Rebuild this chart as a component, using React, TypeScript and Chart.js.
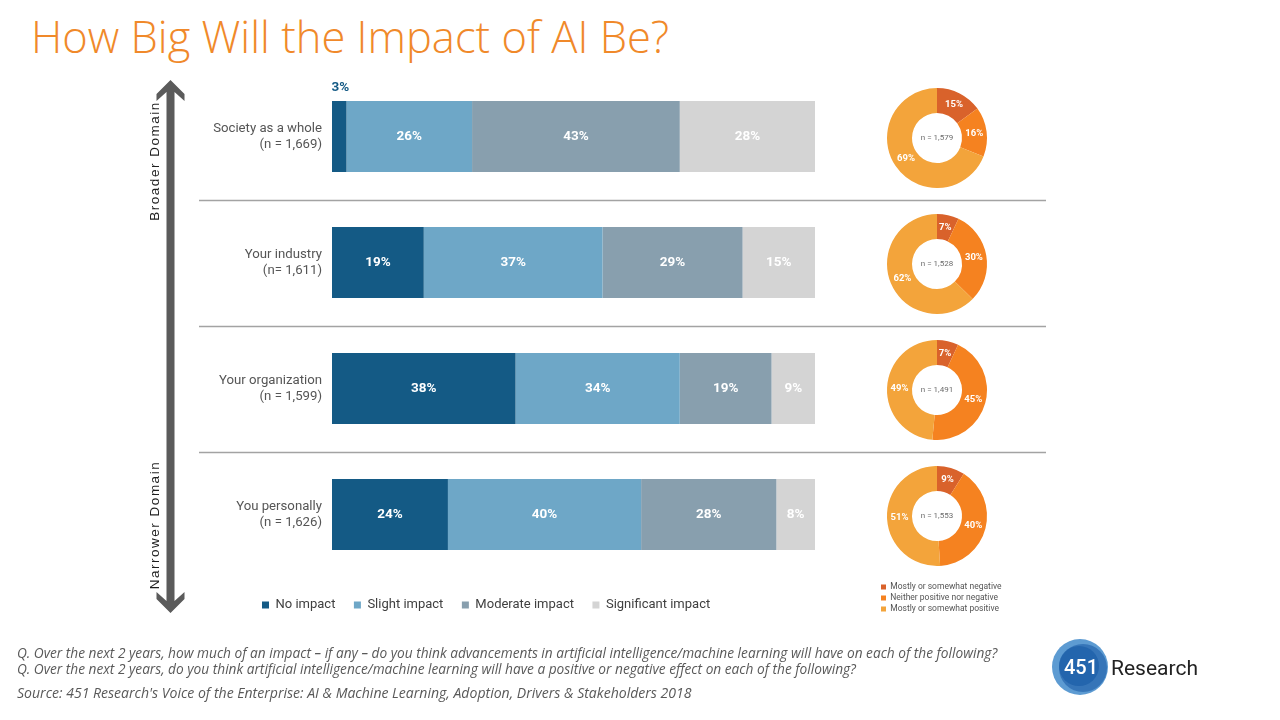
import React, { useEffect, useRef } from "react";
import { Chart, registerables } from "chart.js";

Chart.register(...registerables);

// ---------- data ----------
const categoryLabels: string[][] = [
  ["Society as a whole", "(n = 1,669)"],
  ["Your industry", "(n= 1,611)"],
  ["Your organization", "(n = 1,599)"],
  ["You personally", "(n = 1,626)"],
];
const impactNames = ["No impact", "Slight impact", "Moderate impact", "Significant impact"];
const noImpact = [3, 19, 38, 24];
const slightImpact = [26, 37, 34, 40];
const moderateImpact = [43, 29, 19, 28];
const significantImpact = [28, 15, 9, 8];

const sentimentNames = [
  "Mostly or somewhat negative",
  "Neither positive nor negative",
  "Mostly or somewhat positive",
];
const negativeShare = [15, 7, 7, 9];
const neitherShare = [16, 30, 45, 40];
const positiveShare = [69, 62, 49, 51];
const sampleSizes = ["1,579", "1,528", "1,491", "1,553"];

// ---------- styles ----------
const impactColors = ["#145a85", "#6ea7c7", "#889fae", "#d4d4d4"];
const sentimentColors = ["#d9622b", "#f58220", "#f3a43b"];
const SANS = "Roboto, 'Liberation Sans', sans-serif";

const PLOT_LEFT = 332;
const PLOT_RIGHT = 815;
const PLOT_TOP = 73.5;
const PLOT_BOTTOM = 577.5;
const AXIS_WIDTH = 200;
const LEG_FONT = 13;
const LEG_PAD = 18.5;

function ImpactBars() {
  const ref = useRef<HTMLCanvasElement>(null);
  useEffect(() => {
    const series = [noImpact, slightImpact, moderateImpact, significantImpact];

    const decor = {
      id: "decor",
      beforeDatasetsDraw(chart: any) {
        const { ctx } = chart;
        const y = chart.scales.y;
        ctx.save();
        ctx.strokeStyle = "#a3a3a3";
        ctx.lineWidth = 1.5;
        for (let i = 0; i < categoryLabels.length - 1; i++) {
          const yy = Math.round((y.getPixelForValue(i) + y.getPixelForValue(i + 1)) / 2) + 0.5;
          ctx.beginPath();
          ctx.moveTo(199, yy);
          ctx.lineTo(1046, yy);
          ctx.stroke();
        }
        // double arrow
        const cx = 170.5;
        const top = 80;
        const bot = 613;
        ctx.fillStyle = "#5b5b5b";
        ctx.beginPath();
        ctx.moveTo(cx, top);
        ctx.lineTo(cx + 14, top + 14);
        ctx.lineTo(cx + 14, top + 21);
        ctx.lineTo(cx + 4, top + 12);
        ctx.lineTo(cx + 4, bot - 12);
        ctx.lineTo(cx + 14, bot - 21);
        ctx.lineTo(cx + 14, bot - 14);
        ctx.lineTo(cx, bot);
        ctx.lineTo(cx - 14, bot - 14);
        ctx.lineTo(cx - 14, bot - 21);
        ctx.lineTo(cx - 4, bot - 12);
        ctx.lineTo(cx - 4, top + 12);
        ctx.lineTo(cx - 14, top + 21);
        ctx.lineTo(cx - 14, top + 14);
        ctx.closePath();
        ctx.fill();
        // rotated labels
        ctx.fillStyle = "#1e1e1e";
        ctx.font = "13.5px 'Liberation Sans', Arial, sans-serif";
        (ctx as any).letterSpacing = "1.5px";
        ctx.textAlign = "center";
        ctx.textBaseline = "middle";
        const rot = (text: string, x: number, yc: number) => {
          ctx.save();
          ctx.translate(x, yc);
          ctx.rotate(-Math.PI / 2);
          ctx.fillText(text, 0, 0);
          ctx.restore();
        };
        rot("Broader Domain", 155, 161);
        rot("Narrower Domain", 155, 525);
        ctx.restore();
      },
    };

    const barLabels = {
      id: "barLabels",
      afterDatasetsDraw(chart: any) {
        const { ctx } = chart;
        ctx.save();
        ctx.font = `bold 13.5px ${SANS}`;
        ctx.textAlign = "center";
        ctx.textBaseline = "middle";
        chart.data.datasets.forEach((ds: any, di: number) => {
          const meta = chart.getDatasetMeta(di);
          meta.data.forEach((el: any, i: number) => {
            const v = ds.data[i] as number;
            const p = el.getProps(["x", "y", "base", "height"], true);
            const cx = (p.x + p.base) / 2;
            if (v < 5) {
              ctx.fillStyle = ds.backgroundColor;
              ctx.fillText(`${v}%`, cx + 1, p.y - p.height / 2 - 13);
            } else {
              ctx.fillStyle = "#ffffff";
              ctx.fillText(`${v}%`, cx, p.y + 0.5);
            }
          });
        });
        ctx.restore();
      },
    };

    const legendPlace = {
      id: "legendPlace",
      afterLayout(chart: any) {
        const lg = chart.legend;
        if (!lg) return;
        const h = lg.height;
        lg.left = 262 - LEG_PAD;
        lg.right = 1000;
        lg.width = lg.right - lg.left;
        lg.top = 605 - LEG_PAD - LEG_FONT / 2;
        lg.bottom = lg.top + h;
      },
    };

    const chart = new Chart(ref.current!, {
      type: "bar",
      data: {
        labels: categoryLabels,
        datasets: impactNames.map((name, i) => ({
          label: name,
          data: series[i],
          backgroundColor: impactColors[i],
          borderWidth: 0,
          categoryPercentage: 1,
          barPercentage: 71 / 126,
        })),
      },
      options: {
        indexAxis: "y",
        responsive: false,
        animation: false,
        events: [],
        layout: {
          padding: {
            left: PLOT_LEFT - AXIS_WIDTH,
            right: 1280 - PLOT_RIGHT,
            top: PLOT_TOP,
            bottom: 720 - PLOT_BOTTOM - (LEG_FONT + LEG_PAD + 10),
          },
        },
        scales: {
          x: { stacked: true, min: 0, max: 100, display: false },
          y: {
            stacked: true,
            grid: { display: false, drawTicks: false },
            border: { display: false },
            ticks: {
              padding: 10,
              color: "#555555",
              font: { family: SANS, size: 13.2, lineHeight: 1.22 },
            },
            afterFit: (s: any) => {
              s.width = AXIS_WIDTH;
            },
          },
        },
        plugins: {
          legend: {
            position: "bottom",
            align: "start",
            labels: {
              boxWidth: 7,
              boxHeight: 7,
              padding: LEG_PAD,
              color: "#404040",
              font: { family: SANS, size: LEG_FONT },
            },
          },
          tooltip: { enabled: false },
        },
      } as any,
      plugins: [decor, barLabels, legendPlace],
    });
    return () => chart.destroy();
  }, []);
  return (
    <canvas
      ref={ref}
      width={1280}
      height={720}
      style={{ position: "absolute", left: 0, top: 0, width: 1280, height: 720 }}
    />
  );
}

const DONUT_W = 150;
const DONUT_D = 100;
const DONUT_LEG_EXTRA = 20;
const DONUT_LEG_FONT = 8.5;
const DONUT_LEG_PAD = 2.5;
const DONUT_CX = 937;

function SentimentDonut({ index, withLegend }: { index: number; withLegend: boolean }) {
  const ref = useRef<HTMLCanvasElement>(null);
  const legendH = 3 * (DONUT_LEG_FONT + DONUT_LEG_PAD) + 10;
  const height = withLegend ? DONUT_D + DONUT_LEG_EXTRA + legendH : DONUT_D;
  const centerY = 138 + 126 * index;
  const canvasTop = centerY - DONUT_D / 2;
  const canvasLeft = DONUT_CX - DONUT_W / 2;
  useEffect(() => {
    const values = [negativeShare[index], neitherShare[index], positiveShare[index]];
    const donutText = {
      id: "donutText",
      afterDatasetsDraw(chart: any) {
        const { ctx } = chart;
        const meta = chart.getDatasetMeta(0);
        ctx.save();
        ctx.textAlign = "center";
        ctx.textBaseline = "middle";
        ctx.fillStyle = "#ffffff";
        ctx.font = `bold 9.5px ${SANS}`;
        meta.data.forEach((arc: any, i: number) => {
          const p = arc.tooltipPosition(true);
          ctx.fillText(`${values[i]}%`, p.x, p.y);
        });
        const a = meta.data[0];
        ctx.fillStyle = "#6b6b6b";
        ctx.font = `8px ${SANS}`;
        ctx.fillText(`n = ${sampleSizes[index]}`, a.x, a.y);
        ctx.restore();
      },
    };
    const legendShift = {
      id: "legendShift",
      afterLayout(chart: any) {
        const lg = chart.legend;
        if (!lg || !withLegend) return;
        const h = lg.height;
        const w = lg.width;
        lg.left = 881 - canvasLeft - DONUT_LEG_PAD;
        lg.right = lg.left + w;
        lg.top = 587 - canvasTop - DONUT_LEG_PAD - DONUT_LEG_FONT / 2;
        lg.bottom = lg.top + h;
      },
    };
    const chart = new Chart(ref.current!, {
      type: "doughnut",
      data: {
        labels: sentimentNames,
        datasets: [{ data: values, backgroundColor: sentimentColors, borderWidth: 0 }],
      },
      options: {
        responsive: false,
        animation: false,
        events: [],
        cutout: "50%",
        layout: { padding: { bottom: withLegend ? DONUT_LEG_EXTRA : 0 } },
        plugins: {
          legend: {
            display: withLegend,
            position: "bottom",
            align: "start",
            labels: {
              boxWidth: 5,
              boxHeight: 5,
              padding: DONUT_LEG_PAD,
              color: "#555555",
              font: { family: SANS, size: DONUT_LEG_FONT },
            },
          },
          tooltip: { enabled: false },
        },
      } as any,
      plugins: [donutText, legendShift],
    });
    return () => chart.destroy();
  }, [index, withLegend]);
  return (
    <canvas
      ref={ref}
      width={DONUT_W}
      height={height}
      style={{
        position: "absolute",
        left: canvasLeft,
        top: canvasTop,
        width: DONUT_W,
        height,
      }}
    />
  );
}

export default function App() {
  return (
    <div
      style={{
        position: "absolute",
        left: 0,
        top: 0,
        width: 1280,
        height: 720,
        background: "#ffffff",
        overflow: "hidden",
      }}
    >
      <div
        style={{
          position: "absolute",
          left: 31,
          top: 10,
          fontFamily: "'Open Sans', sans-serif",
          fontWeight: 300,
          fontSize: 43.5,
          lineHeight: "54px",
          color: "#f0892a",
          whiteSpace: "nowrap",
        }}
      >
        How Big Will the Impact of AI Be?
      </div>
      <ImpactBars />
      {[0, 1, 2, 3].map((i) => (
        <SentimentDonut key={i} index={i} withLegend={i === 3} />
      ))}
      <div
        style={{
          position: "absolute",
          left: 17,
          top: 645,
          fontFamily: "'Open Sans', sans-serif",
          fontStyle: "italic",
          fontSize: 13.7,
          lineHeight: "16px",
          color: "#595959",
          whiteSpace: "nowrap",
        }}
      >
        <div>
          Q. Over the next 2 years, how much of an impact – if any – do you think advancements in artificial
          intelligence/machine learning will have on each of the following?
        </div>
        <div>
          Q. Over the next 2 years, do you think artificial intelligence/machine learning will have a positive or
          negative effect on each of the following?
        </div>
        <div style={{ marginTop: 8, fontSize: 14.05 }}>
          Source: 451 Research's Voice of the Enterprise: AI &amp; Machine Learning, Adoption, Drivers &amp;
          Stakeholders 2018
        </div>
      </div>
      <svg
        width={62}
        height={62}
        style={{ position: "absolute", left: 1050, top: 637 }}
        viewBox="0 0 62 62"
      >
        <circle cx={30} cy={30} r={28} fill="#5d9bd2" />
        <circle cx={33} cy={31} r={24} fill="#2f6fb4" opacity={0.85} />
        <circle cx={29} cy={29} r={20} fill="#1b5ea8" opacity={0.7} />
        <text
          x={31}
          y={37}
          textAnchor="middle"
          fill="#ffffff"
          style={{ fontFamily: SANS, fontSize: 20, fontWeight: 500 }}
        >
          451
        </text>
      </svg>
      <div
        style={{
          position: "absolute",
          left: 1111,
          top: 655,
          fontFamily: SANS,
          fontSize: 21,
          lineHeight: "26px",
          color: "#222222",
        }}
      >
        Research
      </div>
    </div>
  );
}
